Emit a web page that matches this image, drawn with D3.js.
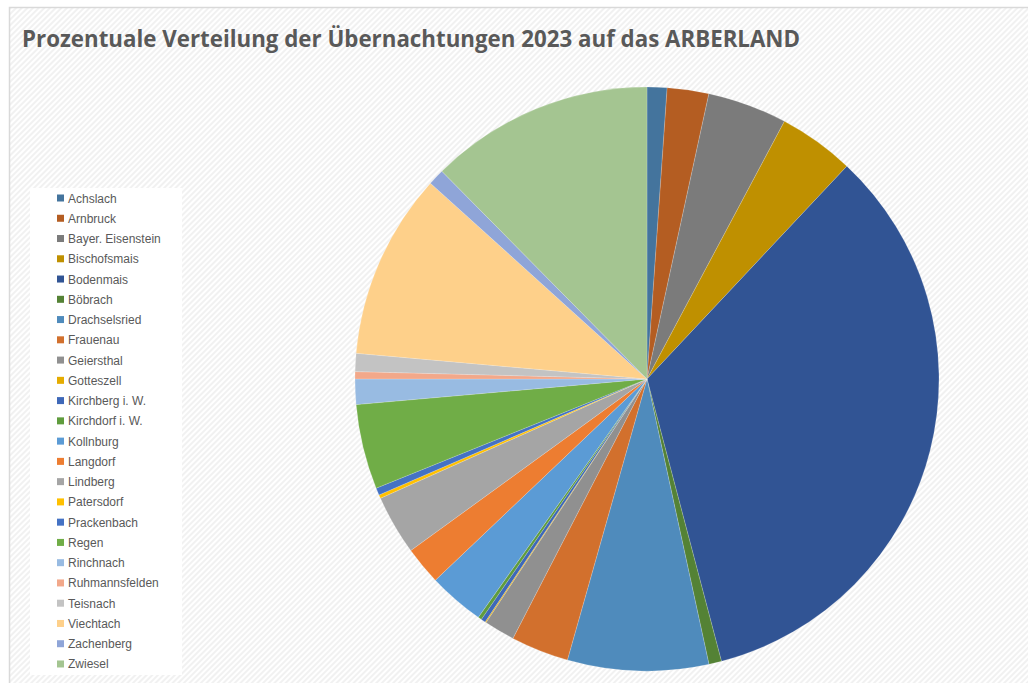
<!DOCTYPE html>
<html>
<head>
<meta charset="utf-8">
<script src="https://cdn.jsdelivr.net/npm/d3@7"></script>
<style>
  body { margin: 0; background: #fff; }
  svg { display: block; }
</style>
</head>
<body>
<script>
// Orte (Reihenfolge wie in der Legende)
var orte = ["Achslach", "Arnbruck", "Bayer. Eisenstein", "Bischofsmais", "Bodenmais", "Böbrach",
  "Drachselsried", "Frauenau", "Geiersthal", "Gotteszell", "Kirchberg i. W.", "Kirchdorf i. W.",
  "Kollnburg", "Langdorf", "Lindberg", "Patersdorf", "Prackenbach", "Regen", "Rinchnach",
  "Ruhmannsfelden", "Teisnach", "Viechtach", "Zachenberg", "Zwiesel"];

// Anteil an den Übernachtungen in % (aus dem Bild geschätzt)
var anteile = [1.1, 2.3, 4.4, 4.2, 33.9, 0.7,
  7.8, 3.2, 1.7, 0.06, 0.25, 0.2,
  3.1, 2.1, 3.3, 0.2, 0.4, 4.7, 1.4,
  0.4, 1.0, 10.3, 0.9, 12.4];

var farben = ["#44749d", "#b45d22", "#7b7b7b", "#bf9000", "#315494", "#548235",
  "#4f8bbc", "#d2702d", "#909090", "#e5ac00", "#3e68b8", "#5f9c3d",
  "#5b9bd5", "#ed7d31", "#a5a5a5", "#ffc000", "#4472c4", "#70ad47",
  "#98bbe2", "#f2a88a", "#c3c3c3", "#fed08a", "#8fa5d8", "#a4c591"];

var titel = "Prozentuale Verteilung der Übernachtungen 2023 auf das ARBERLAND";

var width = 1028, height = 683;
var cx = 647, cy = 379, radius = 292;

var svg = d3.select("body").append("svg")
  .attr("width", width)
  .attr("height", height);

// striped chart background
var defs = svg.append("defs");
var pat = defs.append("pattern")
  .attr("id", "stripes")
  .attr("patternUnits", "userSpaceOnUse")
  .attr("width", 4)
  .attr("height", 4)
  .attr("patternTransform", "rotate(45)");
pat.append("rect").attr("width", 4).attr("height", 4).attr("fill", "#ffffff");
pat.append("rect").attr("width", 2).attr("height", 4).attr("fill", "#f1f1f1");

svg.append("rect")
  .attr("x", 9.5).attr("y", 7.5)
  .attr("width", width).attr("height", height)
  .attr("fill", "url(#stripes)")
  .attr("stroke", "#d9d9d9")
  .attr("stroke-width", 1.5);

// title
svg.append("text")
  .attr("x", 22)
  .attr("y", 47)
  .attr("textLength", 778)
  .attr("lengthAdjust", "spacingAndGlyphs")
  .style("font-family", "'Open Sans', 'Noto Sans', sans-serif")
  .style("font-weight", "bold")
  .style("font-size", "23px")
  .style("fill", "#595959")
  .text(titel);

// pie
var data = orte.map(function(o, i) { return {name: o, value: anteile[i], color: farben[i]}; });

var pie = d3.pie()
  .sort(null)
  .value(function(d) { return d.value; });

var arc = d3.arc()
  .innerRadius(0)
  .outerRadius(radius);

var pieG = svg.append("g")
  .attr("transform", "translate(" + cx + "," + cy + ")");

pieG.selectAll("path")
  .data(pie(data))
  .enter()
  .append("path")
    .attr("d", arc)
    .attr("fill", function(d) { return d.data.color; })
    .attr("stroke", "rgba(255,255,255,0.35)")
    .attr("stroke-width", 0.5);

// legend
var legendTop = 188, legendStep = 20.26;

svg.append("rect")
  .attr("x", 30).attr("y", legendTop)
  .attr("width", 152).attr("height", 487)
  .attr("fill", "#ffffff");

var legend = svg.append("g");

var item = legend.selectAll("g")
  .data(data)
  .enter()
  .append("g")
    .attr("transform", function(d, i) {
      return "translate(57," + (legendTop + 10 + i * legendStep) + ")";
    });

item.append("rect")
  .attr("x", 0)
  .attr("y", -3.5)
  .attr("width", 7)
  .attr("height", 7)
  .attr("fill", function(d) { return d.color; });

item.append("text")
  .attr("x", 11)
  .attr("y", 4.5)
  .style("font-family", "'Liberation Sans', Arial, sans-serif")
  .style("font-size", "12px")
  .style("fill", "#595959")
  .text(function(d) { return d.name; });
</script>
</body>
</html>
